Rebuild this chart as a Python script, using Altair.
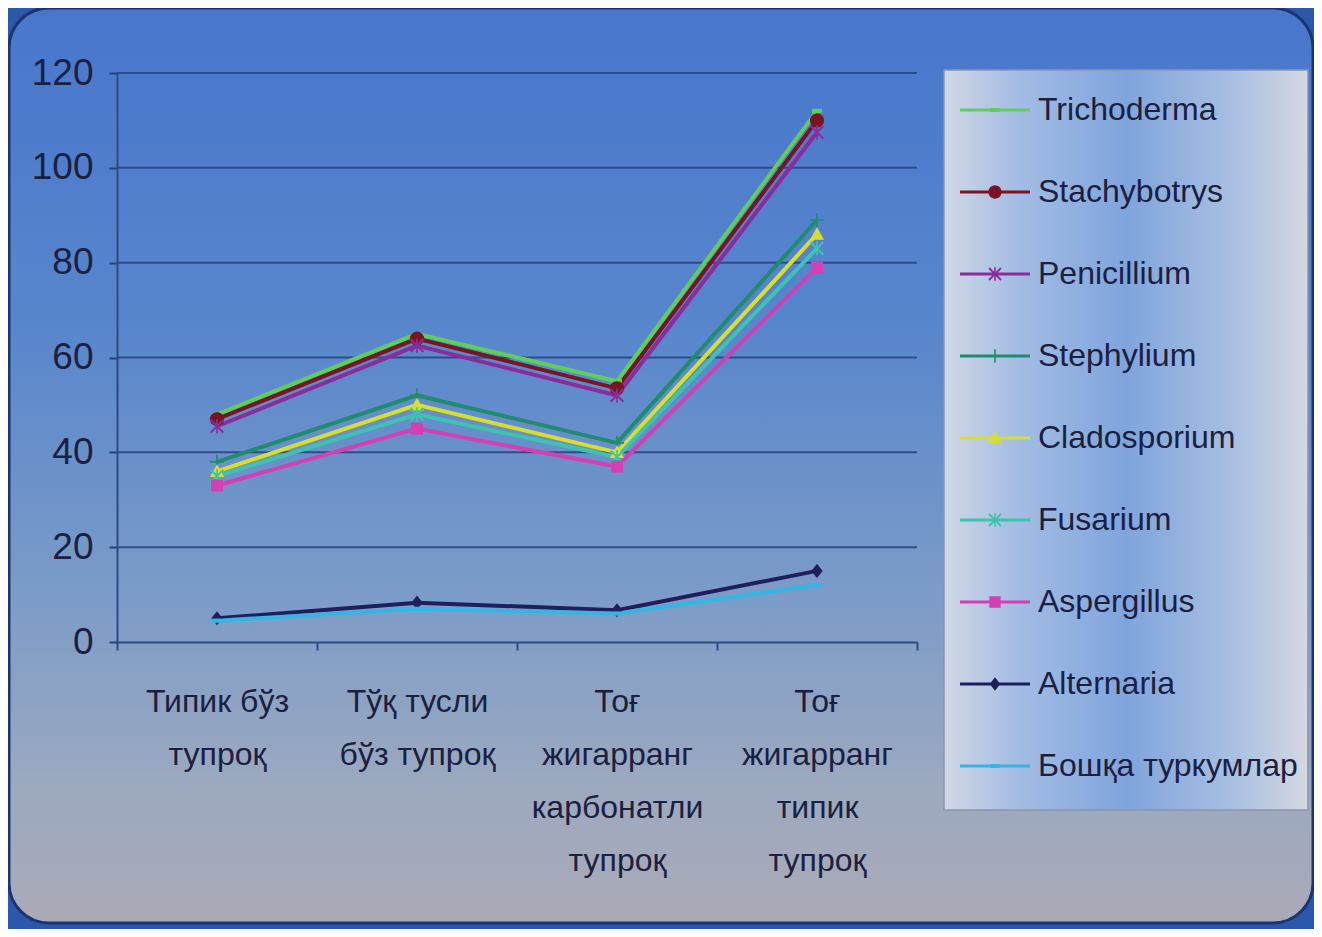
import altair as alt
import pandas as pd
import numpy as np

# ---------------- data ----------------
soils = [
    "Типик бўз|тупроқ",
    "Тўқ тусли|бўз тупроқ",
    "Тоғ|жигарранг|карбонатли|тупроқ",
    "Тоғ|жигарранг|типик|тупроқ",
]
series = ["Trichoderma", "Stachybotrys", "Penicillium", "Stephylium",
          "Cladosporium", "Fusarium", "Aspergillus", "Alternaria",
          "Бошқа туркумлар"]

trichoderma = [48, 65, 55, 112]
stachybotrys = [47, 64, 53.5, 110]
penicillium = [45.5, 62.5, 52, 107.5]
stephylium = [38, 52, 42, 89]
cladosporium = [36, 50, 40, 86]
fusarium = [35, 48, 39, 83]
aspergillus = [33, 45, 37, 79]
alternaria = [5, 8.3, 6.7, 15]
boshqa = [4.5, 7, 6, 12]

y_ticks = [0, 20, 40, 60, 80, 100, 120]

values = [trichoderma, stachybotrys, penicillium, stephylium, cladosporium,
          fusarium, aspergillus, alternaria, boshqa]

rows = []
for s, vals in zip(series, values):
    for soil, v in zip(soils, vals):
        rows.append({"series": s, "soil": soil, "value": v})
df = pd.DataFrame(rows)

# ---------------- styles ----------------
line_colors = ["#5fcf5a", "#7a1424", "#8a2c9c", "#1f8c6e", "#d6df2c",
               "#3fc3b0", "#d43fb4", "#1e1f5c", "#35b6e2"]

def poly(points):
    return "M" + "L".join(f"{x:.3f},{y:.3f}" for x, y in points) + "Z"

def rect(x0, y0, x1, y1):
    return poly([(x0, y0), (x1, y0), (x1, y1), (x0, y1)])

_xpts = [(-1, -0.8), (-0.8, -1), (0, -0.2), (0.8, -1), (1, -0.8), (0.2, 0),
         (1, 0.8), (0.8, 1), (0, 0.2), (-0.8, 1), (-1, 0.8), (-0.2, 0)]
_ang = np.linspace(0, 2 * np.pi, 20, endpoint=False)
marker_polys = {
    "dash": [[(-0.7, -0.3), (0.7, -0.3), (0.7, 0.3), (-0.7, 0.3)]],
    "circle": [list(zip(np.cos(_ang), np.sin(_ang)))],
    "star": [_xpts, [(-0.12, -1), (0.12, -1), (0.12, 1), (-0.12, 1)]],
    "plus": [[(-1, -0.12), (1, -0.12), (1, 0.12), (-1, 0.12)],
             [(-0.12, -1), (0.12, -1), (0.12, 1), (-0.12, 1)]],
    "triangle": [[(0, -1), (1, 0.8), (-1, 0.8)]],
    "square": [[(-0.85, -0.85), (0.85, -0.85), (0.85, 0.85), (-0.85, 0.85)]],
    "diamond": [[(0, -1), (0.8, 0), (0, 1), (-0.8, 0)]],
}
series_marker = ["dash", "circle", "star", "plus", "triangle", "star",
                 "square", "diamond", "dash"]

def marker_path(name, k=1.0):
    return "".join(poly([(x * k, y * k) for x, y in p]) for p in marker_polys[name])

plot_shapes = [marker_path(m) for m in series_marker]
legend_shapes = [rect(-1, -0.045, 1, 0.045) + marker_path(m, 0.19) for m in series_marker]

W, H = 800, 569
FONT = "Liberation Sans, Arial, sans-serif"
TXT = "#1c2040"
GRID = "#24427e"

# ---------------- background frame ----------------
frame = alt.Chart(pd.DataFrame({"a": [0]})).mark_rect(
    fill=alt.LinearGradient(
        gradient="linear",
        stops=[alt.GradientStop(color="#4876cc", offset=0),
               alt.GradientStop(color="#5886cc", offset=0.35),
               alt.GradientStop(color="#7d9cc8", offset=0.65),
               alt.GradientStop(color="#9ca9c0", offset=0.85),
               alt.GradientStop(color="#aaaab6", offset=1)],
        x1=0, x2=0, y1=0, y2=1),
    stroke="#1c3470", strokeWidth=3, cornerRadius=40,
).encode(x=alt.value(-108), x2=alt.value(1196), y=alt.value(-65), y2=alt.value(850))

legend_bg = alt.Chart(pd.DataFrame({"a": [0]})).mark_rect(
    fill=alt.LinearGradient(
        gradient="linear",
        stops=[alt.GradientStop(color="#d2d8e4", offset=0),
               alt.GradientStop(color="#a4bde4", offset=0.2),
               alt.GradientStop(color="#7fa4dc", offset=0.5),
               alt.GradientStop(color="#aac0e2", offset=0.8),
               alt.GradientStop(color="#d4d8e2", offset=1)],
        x1=0, x2=1, y1=0, y2=0),
    stroke="#8a94ae", strokeWidth=1.5,
).encode(x=alt.value(827), x2=alt.value(1191), y=alt.value(-3), y2=alt.value(737))

xscale = alt.Scale(domain=soils, type="band", paddingInner=0, paddingOuter=0)
yscale = alt.Scale(domain=[0, 120], nice=False)

xaxis = alt.Axis(title=None, tickBand="extent", labelAngle=0,
                 labelExpr="split(datum.label, '|')",
                 labelFont=FONT, labelFontSize=32, labelColor=TXT,
                 labelLineHeight=53, labelPadding=36, labelBaseline="top",
                 domainColor="#2d4a86", domainWidth=2,
                 tickColor="#2d4a86", tickWidth=2, tickSize=8,
                 grid=False, labelLimit=400, zindex=1)
yaxis = alt.Axis(title=None, values=y_ticks, grid=False,
                 labelFont=FONT, labelFontSize=37, labelColor=TXT,
                 labelPadding=16, tickSize=8, tickColor=GRID,
                 tickWidth=2, domainColor="#2d4a86", domainWidth=2,
                 zindex=1)

xenc = alt.X("soil:N", sort=soils, bandPosition=0.5, scale=xscale, axis=xaxis)
yenc = alt.Y("value:Q", scale=yscale, axis=yaxis)

grid = alt.Chart(pd.DataFrame({"tick": y_ticks[1:]})).mark_rule(
    color=GRID, strokeWidth=2, opacity=0.85
).encode(y=alt.Y("tick:Q", scale=yscale, axis=yaxis), x=alt.value(0), x2=alt.value(W))

color_scale = alt.Scale(domain=series, range=line_colors)

base = alt.Chart(df)

lines = base.mark_line(strokeWidth=4).encode(
    x=xenc, y=yenc,
    color=alt.Color("series:N", scale=color_scale, legend=None),
    order=alt.Order("series_idx:Q"),
).transform_calculate(series_idx="indexof(" + str(series) + ", datum.series)")

points = base.mark_point(filled=True, size=200, opacity=1).encode(
    x=xenc, y=yenc,
    color=alt.Color("series:N", scale=color_scale, legend=None),
    shape=alt.Shape("series:N", scale=alt.Scale(domain=series, range=plot_shapes), legend=None),
)

leg = dict(title=None, orient="none", legendX=843, legendY=2,
           symbolSize=4900, symbolStrokeWidth=0,
           labelFont=FONT, labelFontSize=32, labelColor=TXT,
           labelOffset=8, rowPadding=31, labelLimit=400, symbolOpacity=1)

legend_layer = base.transform_filter("false").mark_point(filled=True, opacity=1).encode(
    x=xenc, y=yenc,
    color=alt.Color("series:N", scale=alt.Scale(domain=series, range=line_colors),
                    legend=alt.Legend(**leg)),
    shape=alt.Shape("series:N", scale=alt.Scale(domain=series, range=legend_shapes),
                    legend=alt.Legend(**leg)),
)

chart = alt.layer(frame, legend_bg, grid, lines, points, legend_layer).resolve_scale(
    color="independent", shape="independent"
).properties(
    width=W, height=H, background="#2c58ac",
    padding={"left": 109, "top": 65, "right": 397, "bottom": 287},
    autosize=alt.AutoSizeParams(type="none"),
).configure_view(stroke=None)

chart.save("out.html", embed_options={"renderer": "svg", "actions": False})
